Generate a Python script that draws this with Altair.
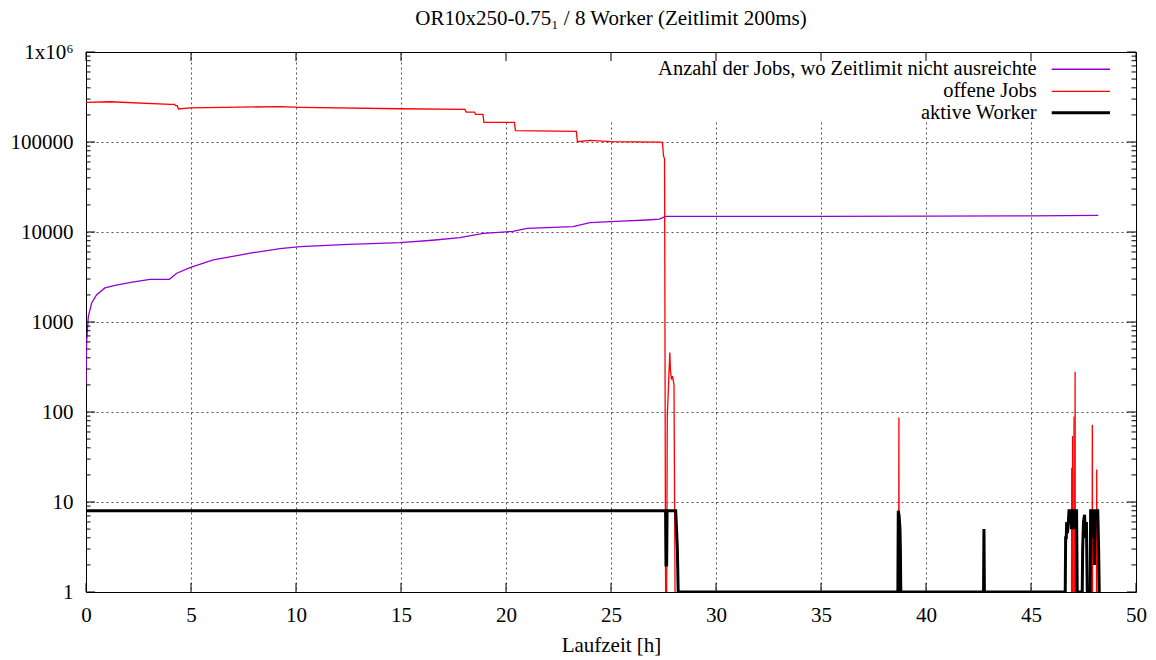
import altair as alt
import pandas as pd

FONT = "Liberation Serif"
TITLE = "OR10x250-0.75\u2081 / 8 Worker (Zeitlimit 200ms)"
X_TITLE = "Laufzeit [h]"
SERIES = ["Anzahl der Jobs, wo Zeitlimit nicht ausreichte", "offene Jobs", "aktive Worker"]
COLORS = ["#9400D3", "#FF0000", "#000000"]

X_TICKS = list(range(0, 51, 5))
Y_TICKS = [1, 10, 100, 1000, 10000, 100000, 1000000]
Y_MINOR = [m * 10 ** k for k in range(6) for m in range(2, 10)]

# Anzahl der Jobs, wo Zeitlimit nicht ausreichte
purple_h = [0, 0.03, 0.11, 0.27, 0.5, 0.9, 1.44, 2.2, 3.05, 3.97, 4.32, 4.95, 6.06, 7.95, 9.24,
            10.2, 12.5, 14.95, 16.5, 17.8, 18.92, 20.33, 21.0, 23.19, 24.0, 25.5, 26.7, 27.3,
            27.6, 30, 35, 40, 45, 48.2]
purple_v = [200, 600, 1145, 1630, 2000, 2390, 2570, 2780, 2980, 2980, 3480, 4010, 4890, 5890, 6530,
            6870, 7300, 7610, 8100, 8650, 9660, 10170, 10970, 11460, 12690, 13200, 13600, 13900,
            14900, 14900, 14950, 15000, 15100, 15300]

# offene Jobs (main curve)
red_h = [0, 1.14, 4.0, 4.22, 4.26, 4.35, 4.4, 4.95, 9.24, 10.2, 14.95, 18.05, 18.1, 18.5, 18.55,
         18.9, 18.95, 20.4, 20.45, 23.35, 23.4, 24.0, 25.0, 27.3, 27.45, 27.5, 27.55, 27.6]
red_v = [276000, 280000, 262000, 262000, 253000, 253000, 233000, 240000, 247000, 243000, 234000,
         231000, 215000, 215000, 203000, 203000, 165000, 165000, 134000, 131000, 100700, 104000,
         101000, 99500, 99000, 70000, 65000, 1]
# offene Jobs after the collapse
red2_h = [27.65, 27.68, 27.8, 27.83, 27.88, 27.93, 28.0, 28.05]
red2_v = [1, 89, 457, 290, 230, 250, 200, 1]
# offene Jobs isolated spikes
spike_h = [38.71, 46.94, 46.98, 47.05, 47.1, 47.92, 48.13]
spike_v = [87, 24, 54, 89, 280, 72, 23]

# aktive Worker
black_h = [0, 27.6, 27.62, 27.65, 27.67, 28.08, 28.12, 28.16, 28.2, 38.66, 38.68, 38.72, 38.76,
           38.78, 38.8, 42.74, 42.76, 42.78, 46.63, 46.65, 46.68, 46.7, 46.74, 46.78, 46.81, 46.9,
           46.93, 46.97, 47.05, 47.08, 47.12, 47.17, 47.2, 47.44, 47.46, 47.5, 47.55, 47.6, 47.64,
           47.68, 47.82, 47.84, 47.92, 47.94, 47.98, 48.02, 48.05, 48.18, 48.22, 48.25]
black_v = [8, 8, 2, 2, 8, 8, 5, 3, 1, 1, 8, 7, 5, 3, 1, 1, 5, 1, 1, 4, 4, 6, 4.5, 6, 8, 8, 5, 8, 8,
           5, 8, 8, 1, 1, 3, 6, 7.2, 4, 6, 1, 1, 8, 8, 4, 8, 2, 8, 8, 3, 1]

# ---- tables ----
df_p = pd.DataFrame({"h": purple_h, "v": purple_v, "seg": 0})
rows = [{"h": h, "v": v, "seg": 0} for h, v in zip(red_h, red_v)]
rows += [{"h": h, "v": v, "seg": 1} for h, v in zip(red2_h, red2_v)]
for i, (h, v) in enumerate(zip(spike_h, spike_v)):
    for dh, vv in ((-0.01, 1), (0.0, v), (0.01, 1)):
        rows.append({"h": h + dh, "v": vv, "seg": 2 + i})
df_r = pd.DataFrame(rows)
df_b = pd.DataFrame({"h": black_h, "v": black_v, "seg": 0})

W, H = 1050, 540

xs = alt.Scale(domain=[0, 50], nice=False, zero=False)
ys = alt.Scale(type="log", domain=[1, 1000000], nice=False)

grid_kw = dict(grid=True, gridDash=[2, 3], gridColor="#000000", gridOpacity=0.85, gridWidth=0.8,
               tickSize=0, domain=False, labelFont=FONT, labelFontSize=21, labelColor="black")
xaxis = alt.Axis(values=X_TICKS, labelPadding=12, title=X_TITLE, titleFont=FONT, titleFontSize=21,
                 titleFontWeight="normal", titleColor="black", titlePadding=9, labelFlush=False,
                 **grid_kw)
yaxis = alt.Axis(values=Y_TICKS, labelPadding=13, title=None,
                 labelExpr="datum.value >= 1000000 ? '1x10\u2076' : format(datum.value, 'd')",
                 **grid_kw)

X = alt.X("h:Q", scale=xs, axis=xaxis)
Y = alt.Y("v:Q", scale=ys, axis=yaxis)

layers = []

# opaque key box (covers grid)
layers.append(alt.Chart(pd.DataFrame({"a": [0]})).mark_rect(fill="white").encode(
    x=alt.value(384), x2=alt.value(W - 1), y=alt.value(1), y2=alt.value(70)))

layers.append(alt.Chart(df_p).mark_line(color=COLORS[0], strokeWidth=1.3, clip=True).encode(
    x=X, y=Y, detail="seg:N"))
layers.append(alt.Chart(df_r).mark_line(color=COLORS[1], strokeWidth=1.3, clip=True).encode(
    x=X, y=Y, detail="seg:N"))
layers.append(alt.Chart(df_b).mark_line(color=COLORS[2], strokeWidth=3, clip=True).encode(
    x=X, y=Y, detail="seg:N"))

# inward ticks
df_xt = pd.DataFrame({"h": X_TICKS})
for y0, y1 in ((H, H - 9), (0, 9)):
    layers.append(alt.Chart(df_xt).mark_rule(color="black", strokeWidth=1).encode(
        x=X, y=alt.value(y0), y2=alt.value(y1)))
df_yt = pd.DataFrame({"v": Y_TICKS})
df_ym = pd.DataFrame({"v": Y_MINOR})
for d, ln in ((df_yt, 9), (df_ym, 4.5)):
    for x0, x1 in ((0, ln), (W, W - ln)):
        layers.append(alt.Chart(d).mark_rule(color="black", strokeWidth=1).encode(
            y=Y, x=alt.value(x0), x2=alt.value(x1)))

# key
rows_y = [17.3, 39.3, 60.7]
widths = [1.5, 1.3, 3]
for name, col, yy, sw in zip(SERIES, COLORS, rows_y, widths):
    layers.append(alt.Chart(pd.DataFrame({"t": [name]})).mark_text(
        align="right", baseline="middle", font=FONT, fontSize=20.5, color="black").encode(
        x=alt.value(950.7), y=alt.value(yy), text="t:N"))
    layers.append(alt.Chart(pd.DataFrame({"t": [name]})).mark_rule(color=col, strokeWidth=sw).encode(
        x=alt.value(965.7), x2=alt.value(1024), y=alt.value(yy)))

chart = alt.layer(*layers).properties(
    width=W, height=H,
    title=alt.TitleParams(TITLE, font=FONT, fontSize=21, fontWeight="normal", color="black",
                          anchor="middle", offset=12),
    autosize=alt.AutoSizeParams(type="none"),
    padding={"left": 86, "top": 52, "right": 20, "bottom": 68},
).configure_view(stroke="black", strokeWidth=1)

chart.save("out.html", embed_options={"renderer": "svg", "actions": False})
